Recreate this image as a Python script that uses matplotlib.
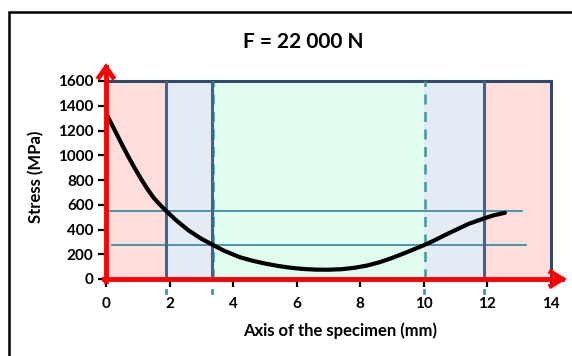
import matplotlib
matplotlib.use("Agg")
import matplotlib.pyplot as plt
from matplotlib.patches import Rectangle

plt.rcParams['font.family'] = ['Lato', 'DejaVu Sans']
plt.rcParams['font.weight'] = 'bold'

# stress along the specimen axis
pos_mm = [0.0, 0.15, 0.3, 0.5, 0.7, 0.9, 1.1, 1.3, 1.5, 1.7, 1.88,
          2.2, 2.6, 3.0, 3.33, 3.7, 4.2, 4.6, 5.0, 5.4, 5.8, 6.2, 6.6,
          7.0, 7.4, 7.8, 8.2, 8.6, 9.0, 9.4, 9.8, 10.0, 10.3, 10.6,
          11.0, 11.4, 11.9, 12.2, 12.55]
stress = [1340, 1265, 1190, 1088, 990, 897, 810, 728, 656, 600, 553,
          476, 392, 325, 280, 230, 177, 148, 125, 106, 91, 81, 76,
          75, 79, 90, 108, 135, 170, 210, 252, 273, 308, 347,
          396, 445, 490, 515, 535]

# zone boundaries (mm) and colours
zone_edges = [0, 1.88, 3.33, 10.0, 11.9, 14]
zone_colors = ['#fddedc', '#e4ebf4', '#e0fcee', '#e4ebf4', '#fddedc']
solid_bounds = [1.88, 3.33, 11.9]
dashed_bounds = [3.33, 10.0]

# horizontal reference levels: (value, x start, x end)
levels = [(550, 0.1, 13.1), (275, 0.2, 13.2)]

x_ticks = [0, 2, 4, 6, 8, 10, 12, 14]
y_ticks = [0, 200, 400, 600, 800, 1000, 1200, 1400, 1600]

fig = plt.figure(figsize=(5.72, 3.56), dpi=100)
fig.patch.set_facecolor('white')

# outer frame of the chart
fig.patches.append(Rectangle((9 / 572, -0.2), 1.5, 1.2 - 12 / 356,
                             transform=fig.transFigure, fill=False,
                             edgecolor='black', lw=1.8))

ax = fig.add_axes([106 / 572, 1 - 279 / 356, 445 / 572, 198 / 356])
ax.set_xlim(0, 14)
ax.set_ylim(0, 1600)

for i, c in enumerate(zone_colors):
    ax.axvspan(zone_edges[i], zone_edges[i + 1], color=c, zorder=0, lw=0)

for v, x0, x1 in levels:
    ax.plot([x0, x1], [v, v], color='#3f8fa3', lw=1.3, zorder=2)

for xb in dashed_bounds:
    ax.plot([xb + 0.04, xb + 0.04], [0, 1600], color='#3a9aa0', lw=1.8,
            ls=(0, (4, 3)), zorder=3)
for xb in solid_bounds:
    ax.plot([xb, xb], [0, 1600], color='#41648c', lw=2.2, zorder=3)
for xb in solid_bounds + [10.0]:
    ax.plot([xb, xb], [-92, -110], color='#3a9aa0', lw=2, zorder=3,
            clip_on=False)

ax.plot(pos_mm, stress, color='black', lw=3, zorder=4,
        solid_capstyle='round', solid_joinstyle='round')

# red axis arrows
ax.plot([0, 0], [-15, 1710], color='red', lw=3.5, zorder=5, clip_on=False)
ax.plot([-0.22, 0, 0.22], [1630, 1710, 1630], color='red', lw=3.5,
        zorder=5, clip_on=False, solid_joinstyle='miter')
ax.plot([-0.05, 14.35], [0, 0], color='red', lw=3.5, zorder=5,
        clip_on=False)
ax.plot([14.0, 14.35, 14.0], [55, 0, -55], color='red', lw=3.5,
        zorder=5, clip_on=False, solid_joinstyle='miter')

for s in ['left', 'bottom']:
    ax.spines[s].set_visible(False)
for s in ['top', 'right']:
    ax.spines[s].set_color('#2f4a6a')
    ax.spines[s].set_linewidth(2.2)

ax.set_xticks(x_ticks)
ax.set_yticks(y_ticks)
ax.tick_params(axis='both', direction='out', length=6, width=1.6,
               color='black', labelsize=11)
ax.tick_params(axis='x', pad=7)
ax.tick_params(axis='y', pad=3)
for lab in ax.get_xticklabels() + ax.get_yticklabels():
    lab.set_fontweight('bold')

fig.text(303 / 572, 1 - 42 / 356, 'F = 22 000 N', ha='center', va='center',
         fontsize=15, fontweight='bold')
fig.text(340 / 572, 1 - 331 / 356, 'Axis of the specimen (mm)',
         ha='center', va='center', fontsize=12, fontweight='bold')
fig.text(36 / 572, 1 - 177 / 356, 'Stress (MPa)', ha='center', va='center',
         rotation=90, fontsize=12, fontweight='bold')

fig.savefig('out.png', dpi=100)
